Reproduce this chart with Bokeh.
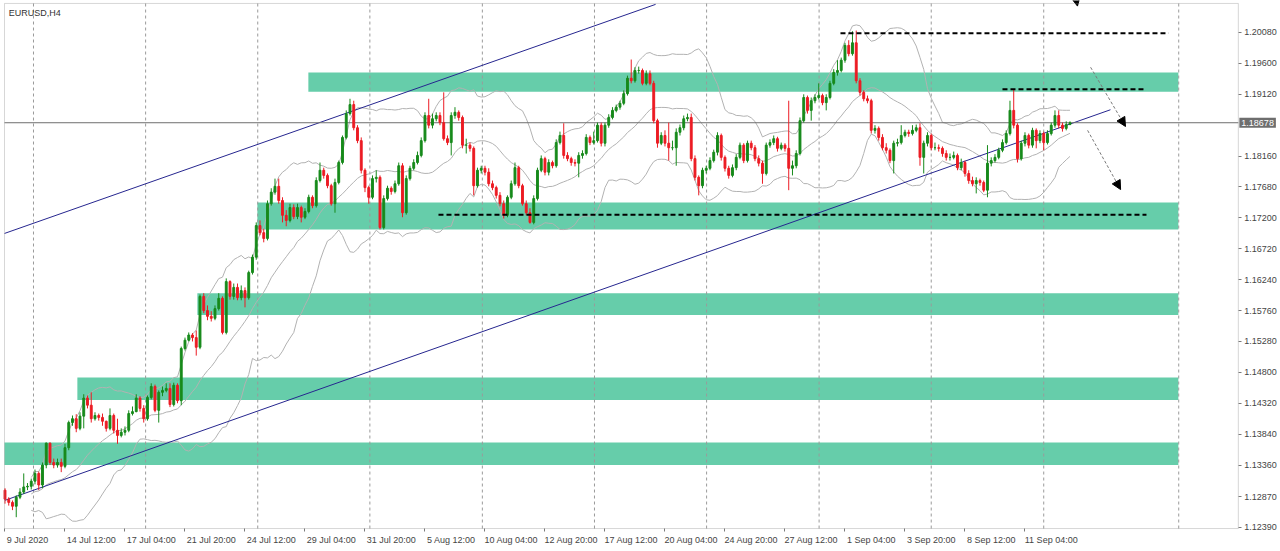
import numpy as np
import pandas as pd
from bokeh.plotting import figure
from bokeh.models import (Range1d, FixedTicker, Label, Arrow, NormalHead, BoxAnnotation,
                          ColumnDataSource, PrintfTickFormatter)
from bokeh.embed import file_html
from bokeh.resources import INLINE

# ---------------- data (EURUSD H4) ----------------
symbol = "EURUSD,H4"
first_open = 1.1297
current_price = 1.18678

close = [
    1.1283, 1.1278, 1.1272, 1.1286, 1.1294, 1.1302, 1.1303, 1.1311, 1.1323, 1.1305,
    1.1336, 1.1370, 1.1340, 1.1336, 1.1340, 1.1334, 1.1363, 1.1402, 1.1408, 1.1393,
    1.1412, 1.1440, 1.1429, 1.1408, 1.1413, 1.1410, 1.1404, 1.1393, 1.1413, 1.1390,
    1.1382, 1.1387, 1.1390, 1.1416, 1.1419, 1.1440, 1.1424, 1.1408, 1.1441, 1.1458,
    1.1421, 1.1449, 1.1452, 1.1455, 1.1430, 1.1460, 1.1436, 1.1517, 1.1530, 1.1538,
    1.1534, 1.1519, 1.1598, 1.1576, 1.1567, 1.1564, 1.1579, 1.1595, 1.1542, 1.1621,
    1.1598, 1.1612, 1.1596, 1.1607, 1.1596, 1.1635, 1.1659, 1.1708, 1.1697, 1.1688,
    1.1742, 1.1760, 1.1769, 1.1747, 1.1724, 1.1716, 1.1736, 1.1722, 1.1736, 1.1721,
    1.1730, 1.1752, 1.1739, 1.1778, 1.1794, 1.1786, 1.1770, 1.1742, 1.1775, 1.1806,
    1.1845, 1.1882, 1.1896, 1.1860, 1.1840, 1.1794, 1.1767, 1.1752, 1.1781, 1.1783,
    1.1705, 1.1750, 1.1766, 1.1761, 1.1773, 1.1801, 1.1728, 1.1781, 1.1797, 1.1806,
    1.1817, 1.1840, 1.1879, 1.1864, 1.1874, 1.1879, 1.1868, 1.1843, 1.1837, 1.1879,
    1.1884, 1.1876, 1.1833, 1.1833, 1.1828, 1.1770, 1.1794, 1.1797, 1.1791, 1.1773,
    1.1767, 1.1755, 1.1742, 1.1724, 1.1752, 1.1773, 1.1798, 1.1770, 1.1742, 1.1728,
    1.1713, 1.1750, 1.1794, 1.1812, 1.1791, 1.1806, 1.1801, 1.1837, 1.1848, 1.1817,
    1.1812, 1.1806, 1.1805, 1.1817, 1.1820, 1.1845, 1.1837, 1.1840, 1.1864, 1.1836,
    1.1864, 1.1876, 1.1887, 1.1892, 1.1898, 1.1913, 1.1937, 1.1933, 1.1949, 1.1949,
    1.1929, 1.1944, 1.1929, 1.1871, 1.1836, 1.1848, 1.1836, 1.1829, 1.1829, 1.1853,
    1.1860, 1.1874, 1.1876, 1.1812, 1.1783, 1.1770, 1.1794, 1.1797, 1.1809, 1.1822,
    1.1848, 1.1814, 1.1797, 1.1786, 1.1798, 1.1814, 1.1833, 1.1809, 1.1836, 1.1829,
    1.1812, 1.1805, 1.1789, 1.1833, 1.1837, 1.1843, 1.1828, 1.1833, 1.1828, 1.1797,
    1.1801, 1.1820, 1.1871, 1.1907, 1.1887, 1.1902, 1.1907, 1.1910, 1.1899, 1.1907,
    1.1929, 1.1946, 1.1949, 1.1965, 1.1988, 1.1975, 1.1992, 1.1933, 1.1915, 1.1905,
    1.1902, 1.1856, 1.1859, 1.1845, 1.1829, 1.1825, 1.1809, 1.1836, 1.1837, 1.1848,
    1.1853, 1.1851, 1.1856, 1.1860, 1.1814, 1.1836, 1.1848, 1.1829, 1.1829, 1.1828,
    1.1820, 1.1814, 1.1814, 1.1817, 1.1798, 1.1806, 1.1789, 1.1778, 1.1773, 1.1778,
    1.1775, 1.1763, 1.1805, 1.1809, 1.1814, 1.1825, 1.1837, 1.1851, 1.1887, 1.1864,
    1.1812, 1.1836, 1.1848, 1.1833, 1.1856, 1.1840, 1.1851, 1.1837, 1.1851, 1.1864,
    1.1879, 1.1864, 1.1859, 1.1865, 1.18678,
]

high = [
    1.1300, 1.1286, 1.1281, 1.1289, 1.1300, 1.1323, 1.1308, 1.1315, 1.1329, 1.1326,
    1.1340, 1.1371, 1.1371, 1.1346, 1.1346, 1.1346, 1.1369, 1.1405, 1.1413, 1.1415,
    1.1418, 1.1446, 1.1444, 1.1449, 1.1418, 1.1416, 1.1416, 1.1405, 1.1424, 1.1416,
    1.1408, 1.1393, 1.1396, 1.1421, 1.1427, 1.1446, 1.1443, 1.1429, 1.1444, 1.1463,
    1.1461, 1.1452, 1.1458, 1.1463, 1.1463, 1.1464, 1.1463, 1.1520, 1.1534, 1.1542,
    1.1541, 1.1545, 1.1601, 1.1603, 1.1584, 1.1575, 1.1584, 1.1603, 1.1598, 1.1626,
    1.1623, 1.1618, 1.1618, 1.1615, 1.1612, 1.1638, 1.1663, 1.1713, 1.1716, 1.1703,
    1.1747, 1.1766, 1.1781, 1.1781, 1.1752, 1.1732, 1.1742, 1.1741, 1.1742, 1.1739,
    1.1735, 1.1756, 1.1755, 1.1783, 1.1806, 1.1798, 1.1789, 1.1773, 1.1781, 1.1809,
    1.1848, 1.1887, 1.1905, 1.1902, 1.1864, 1.1845, 1.1797, 1.1770, 1.1786, 1.1794,
    1.1786, 1.1755, 1.1770, 1.1769, 1.1778, 1.1806, 1.1805, 1.1786, 1.1801, 1.1811,
    1.1823, 1.1845, 1.1884, 1.1905, 1.1882, 1.1884, 1.1884, 1.1915, 1.1848, 1.1884,
    1.1892, 1.1887, 1.1879, 1.1843, 1.1837, 1.1831, 1.1798, 1.1801, 1.1801, 1.1797,
    1.1778, 1.1770, 1.1760, 1.1747, 1.1755, 1.1778, 1.1806, 1.1801, 1.1773, 1.1747,
    1.1735, 1.1755, 1.1798, 1.1817, 1.1815, 1.1811, 1.1809, 1.1842, 1.1854, 1.1867,
    1.1822, 1.1815, 1.1811, 1.1822, 1.1825, 1.1850, 1.1848, 1.1854, 1.1868, 1.1868,
    1.1868, 1.1881, 1.1892, 1.1896, 1.1902, 1.1918, 1.1941, 1.1966, 1.1954, 1.1955,
    1.1952, 1.1949, 1.1949, 1.1933, 1.1874, 1.1853, 1.1856, 1.1868, 1.1840, 1.1859,
    1.1865, 1.1879, 1.1882, 1.1882, 1.1817, 1.1786, 1.1798, 1.1801, 1.1814, 1.1826,
    1.1853, 1.1851, 1.1817, 1.1801, 1.1803, 1.1819, 1.1837, 1.1836, 1.1840, 1.1840,
    1.1833, 1.1817, 1.1809, 1.1837, 1.1842, 1.1848, 1.1846, 1.1837, 1.1836, 1.1902,
    1.1809, 1.1825, 1.1876, 1.1912, 1.1910, 1.1907, 1.1912, 1.1929, 1.1913, 1.1912,
    1.1933, 1.1951, 1.1965, 1.1969, 1.1992, 1.1996, 1.2010, 1.2011, 1.1937, 1.1918,
    1.1910, 1.1905, 1.1864, 1.1862, 1.1850, 1.1836, 1.1828, 1.1840, 1.1843, 1.1864,
    1.1857, 1.1857, 1.1864, 1.1865, 1.1867, 1.1840, 1.1853, 1.1851, 1.1837, 1.1834,
    1.1831, 1.1825, 1.1820, 1.1823, 1.1820, 1.1812, 1.1809, 1.1794, 1.1784, 1.1783,
    1.1781, 1.1778, 1.1833, 1.1814, 1.1819, 1.1829, 1.1842, 1.1856, 1.1902, 1.1919,
    1.1867, 1.1840, 1.1853, 1.1851, 1.1860, 1.1859, 1.1856, 1.1854, 1.1856, 1.1868,
    1.1887, 1.1887, 1.1868, 1.1870, 1.1870,
]

low = [
    1.1276, 1.1273, 1.1266, 1.1255, 1.1283, 1.1291, 1.1297, 1.1298, 1.1306, 1.1297,
    1.1300, 1.1331, 1.1336, 1.1331, 1.1332, 1.1325, 1.1331, 1.1359, 1.1397, 1.1387,
    1.1390, 1.1393, 1.1424, 1.1402, 1.1405, 1.1405, 1.1397, 1.1388, 1.1390, 1.1385,
    1.1369, 1.1379, 1.1382, 1.1387, 1.1413, 1.1418, 1.1419, 1.1402, 1.1405, 1.1438,
    1.1418, 1.1402, 1.1443, 1.1449, 1.1426, 1.1427, 1.1432, 1.1429, 1.1514, 1.1528,
    1.1528, 1.1506, 1.1516, 1.1572, 1.1561, 1.1559, 1.1561, 1.1576, 1.1539, 1.1539,
    1.1593, 1.1593, 1.1592, 1.1592, 1.1581, 1.1593, 1.1632, 1.1655, 1.1693, 1.1682,
    1.1685, 1.1739, 1.1756, 1.1742, 1.1713, 1.1707, 1.1713, 1.1718, 1.1718, 1.1713,
    1.1718, 1.1727, 1.1735, 1.1736, 1.1775, 1.1781, 1.1766, 1.1739, 1.1728, 1.1772,
    1.1803, 1.1842, 1.1879, 1.1856, 1.1836, 1.1789, 1.1760, 1.1742, 1.1749, 1.1775,
    1.1702, 1.1702, 1.1747, 1.1756, 1.1758, 1.1770, 1.1721, 1.1725, 1.1778, 1.1794,
    1.1803, 1.1814, 1.1837, 1.1859, 1.1859, 1.1870, 1.1864, 1.1840, 1.1833, 1.1817,
    1.1874, 1.1871, 1.1828, 1.1820, 1.1823, 1.1755, 1.1767, 1.1789, 1.1786, 1.1769,
    1.1763, 1.1750, 1.1738, 1.1719, 1.1721, 1.1749, 1.1770, 1.1766, 1.1739, 1.1724,
    1.1711, 1.1710, 1.1747, 1.1791, 1.1786, 1.1786, 1.1797, 1.1798, 1.1834, 1.1812,
    1.1808, 1.1801, 1.1800, 1.1783, 1.1812, 1.1817, 1.1833, 1.1834, 1.1837, 1.1831,
    1.1831, 1.1860, 1.1873, 1.1884, 1.1888, 1.1895, 1.1910, 1.1929, 1.1930, 1.1944,
    1.1926, 1.1926, 1.1926, 1.1867, 1.1829, 1.1833, 1.1831, 1.1809, 1.1825, 1.1801,
    1.1848, 1.1856, 1.1870, 1.1808, 1.1778, 1.1755, 1.1766, 1.1789, 1.1794, 1.1806,
    1.1817, 1.1809, 1.1792, 1.1781, 1.1783, 1.1794, 1.1811, 1.1805, 1.1806, 1.1825,
    1.1808, 1.1800, 1.1773, 1.1786, 1.1829, 1.1833, 1.1823, 1.1825, 1.1823, 1.1763,
    1.1786, 1.1797, 1.1817, 1.1868, 1.1882, 1.1871, 1.1898, 1.1904, 1.1895, 1.1887,
    1.1904, 1.1926, 1.1941, 1.1946, 1.1961, 1.1971, 1.1972, 1.1929, 1.1910, 1.1901,
    1.1898, 1.1851, 1.1851, 1.1840, 1.1825, 1.1820, 1.1805, 1.1789, 1.1831, 1.1834,
    1.1845, 1.1846, 1.1848, 1.1853, 1.1801, 1.1789, 1.1831, 1.1825, 1.1825, 1.1823,
    1.1815, 1.1809, 1.1809, 1.1811, 1.1794, 1.1794, 1.1784, 1.1773, 1.1769, 1.1758,
    1.1770, 1.1760, 1.1752, 1.1800, 1.1806, 1.1811, 1.1822, 1.1834, 1.1848, 1.1859,
    1.1806, 1.1809, 1.1831, 1.1828, 1.1829, 1.1828, 1.1836, 1.1825, 1.1834, 1.1848,
    1.1860, 1.1859, 1.1854, 1.1856, 1.1864,
]

# time axis labels (every 16 H4 bars, starting at the first visible bar)
x_label_bars = [0, 16, 32, 48, 64, 80, 96, 112, 128, 144, 160, 176, 192, 208, 224, 240, 256, 272]
x_labels = ["9 Jul 2020", "14 Jul 12:00", "17 Jul 04:00", "21 Jul 20:00", "24 Jul 12:00",
            "29 Jul 04:00", "31 Jul 20:00", "5 Aug 12:00", "10 Aug 04:00", "12 Aug 20:00",
            "17 Aug 12:00", "20 Aug 04:00", "24 Aug 20:00", "27 Aug 12:00", "1 Sep 04:00",
            "3 Sep 20:00", "8 Sep 12:00", "11 Sep 04:00"]
grid_bars = [7.6, 37.5, 67.4, 97.3, 127.3, 157.2, 187.1, 217.1, 247.0, 277.0, 313.0]

# price axis labels
y_ticks = [1.20080, 1.19600, 1.19120, 1.18160, 1.17680, 1.17200, 1.16720, 1.16240,
           1.15760, 1.15280, 1.14800, 1.14320, 1.13840, 1.13360, 1.12870, 1.12390]

# support / resistance zones (rectangles)
zone_left = [80.9, 67.3, 51.3, 19.3, -0.13]
zone_right = [312.9, 312.9, 312.9, 312.9, 312.9]
zone_top = [1.1946, 1.1744, 1.1603, 1.1472, 1.1371]
zone_bottom = [1.1916, 1.1702, 1.1569, 1.1437, 1.1336]

# channel trend lines (bar, price) anchor points
upper_line_x = [-0.13, 173.5]
upper_line_y = [1.16958, 1.20517]
lower_line_x = [0.0, 294.8]
lower_line_y = [1.12812, 1.18880]

# dashed horizontal levels
lvl_x0 = [222.8, 266.0, 115.6]
lvl_x1 = [310.3, 303.6, 304.4]
lvl_y = [1.2007, 1.1920, 1.1725]

# projection arrows
arr_x0 = [289.5, 288.7, 285.0]
arr_y0 = [1.1954, 1.1856, 1.2078]
arr_x1 = [298.8, 297.5, 286.0]
arr_y1 = [1.1862, 1.1764, 1.2049]

# visible chart window (MT4 frame): bars / prices at its edges
X_LEFT, X_EDGE = -0.13, 328.9
Y_BOTTOM, Y_TOP = 1.12374, 1.20531

# ---------------- build ----------------
n = len(close)
bars = np.arange(n)
opens = [first_open] + close[:-1]
hi = [max(h, o, c) for h, o, c in zip(high, opens, close)]
lo = [min(l, o, c) for l, o, c in zip(low, opens, close)]

GREEN = "#178a1b"
RED = "#ec1c24"
GRAY = "#7a7a7a"
colors = [GREEN if c >= o else RED for o, c in zip(opens, close)]
src = ColumnDataSource(dict(x=bars, o=opens, c=close, h=hi, l=lo, col=colors,
                            top=[max(o, c) for o, c in zip(opens, close)],
                            bot=[min(o, c) for o, c in zip(opens, close)]))

cs = pd.Series(close)
mid = cs.rolling(20, min_periods=8).mean()
sd = cs.rolling(20, min_periods=8).std(ddof=0)
bb_up = mid + 2 * sd
bb_dn = mid - 2 * sd

FONT = "Liberation Sans"

# frame covers the whole canvas; axes sit at fixed locations at the chart window edges
p = figure(width=1280, height=551, output_backend="svg", toolbar_location=None,
           x_range=Range1d(-1.197, 340.14), y_range=Range1d(1.12017, 1.20577),
           y_axis_location="right", min_border_left=0, min_border_top=0,
           min_border_right=0, min_border_bottom=0,
           background_fill_color="white", border_fill_color="white")
p.xgrid.grid_line_color = None
p.ygrid.grid_line_color = None
p.outline_line_color = None

# zones
z = p.quad(left=zone_left, right=zone_right, top=zone_top, bottom=zone_bottom,
           fill_color="#66cdaa", line_color=None)
z.level = "image"

# vertical dashed grid (inside the chart window only)
g = p.segment(x0=grid_bars, x1=grid_bars, y0=[Y_BOTTOM] * len(grid_bars),
              y1=[Y_TOP] * len(grid_bars), line_color="#9a9a9a", line_dash="3 3", line_width=1)
g.level = "underlay"

# Bollinger bands
for s in (bb_up, mid, bb_dn):
    p.line(bars, s.values, line_color="#b2b2b2", line_width=1)

# channel lines
p.line(upper_line_x, upper_line_y, line_color="#26268f", line_width=1)
p.line(lower_line_x, lower_line_y, line_color="#26268f", line_width=1)

# current price line
p.line([X_LEFT, X_EDGE], [current_price, current_price], line_color="#6e6e6e", line_width=1)

# candles
p.segment(x0="x", x1="x", y0="l", y1="h", line_color="col", line_width=1, source=src)
p.vbar(x="x", width=0.5, top="top", bottom="bot", fill_color="col", line_color="col",
       line_width=1, source=src)

# dashed levels
p.segment(x0=lvl_x0, x1=lvl_x1, y0=lvl_y, y1=lvl_y, line_color="black", line_width=2,
          line_dash="5 3")

# arrows
for xa, ya, xb, yb in zip(arr_x0, arr_y0, arr_x1, arr_y1):
    p.add_layout(Arrow(end=NormalHead(size=9, fill_color="black", line_color="black"),
                       x_start=xa, y_start=ya, x_end=xb, y_end=yb,
                       line_color=GRAY, line_dash="3 2", line_width=1))

# chart window border
p.add_layout(BoxAnnotation(left=X_LEFT, right=X_EDGE, bottom=Y_BOTTOM, top=Y_TOP,
                           fill_alpha=0, line_color=GRAY, line_width=1, level="overlay"))

# symbol label
p.add_layout(Label(x=1.0, y=1.2039, text=symbol, text_font=FONT, text_font_size="9px",
                   text_color="#333333", text_baseline="middle"))

# current price tag on the price scale
p.add_layout(Label(x=X_EDGE, y=current_price, x_offset=1, text=f"{current_price:.5f}",
                   text_font=FONT, text_font_size="9px", text_color="white",
                   text_baseline="middle", background_fill_color="#6e6e6e", padding=2,
                   level="overlay"))

# y axis (right, at the chart window edge)
ya = p.yaxis[0]
ya.fixed_location = X_EDGE
ya.ticker = FixedTicker(ticks=y_ticks)
ya.formatter = PrintfTickFormatter(format="%.5f")
ya.major_label_text_font = FONT
ya.major_label_text_font_size = "9px"
ya.major_label_text_color = "#444444"
ya.axis_line_color = None
ya.major_tick_line_color = GRAY
ya.major_tick_out = 3
ya.major_tick_in = 0
ya.minor_tick_line_color = None
ya.major_label_standoff = 3

# x axis (bottom, at the chart window edge) - labels start at their tick
centers = [b + int(round((3 + 2.05 * len(t)) / 3.75)) for b, t in zip(x_label_bars, x_labels)]
xa_ = p.xaxis[0]
xa_.fixed_location = Y_BOTTOM
xa_.ticker = FixedTicker(ticks=centers, minor_ticks=x_label_bars)
xa_.major_label_overrides = {c: t for c, t in zip(centers, x_labels)}
xa_.major_label_text_font = FONT
xa_.major_label_text_font_size = "9px"
xa_.major_label_text_color = "#444444"
xa_.axis_line_color = None
xa_.major_tick_line_color = None
xa_.major_tick_out = 0
xa_.major_tick_in = 0
xa_.minor_tick_line_color = GRAY
xa_.minor_tick_out = 3
xa_.minor_tick_in = 0
xa_.major_label_standoff = 3

open("out.html", "w").write(file_html(p, INLINE))
